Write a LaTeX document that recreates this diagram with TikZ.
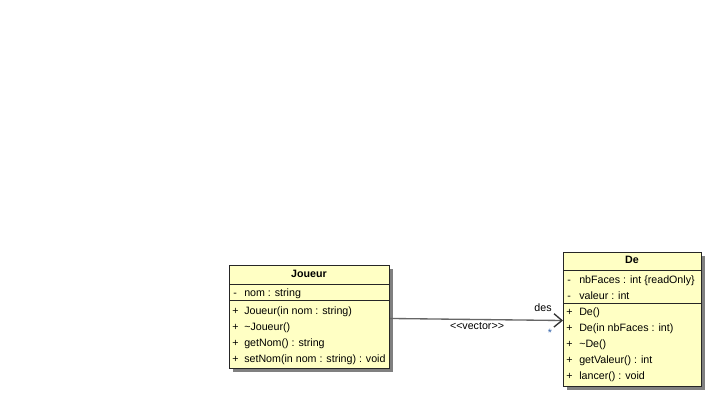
\documentclass[tikz,border=0pt]{standalone}
\usepackage{fontspec}
\setmainfont{Liberation Sans}
\usetikzlibrary{arrows.meta,shadows}

\definecolor{classfill}{HTML}{FFFFC4}
\definecolor{multblue}{HTML}{3060A8}

\tikzset{
  classbox/.style={draw=black!85,fill=classfill,line width=0.75pt,inner sep=0pt,anchor=north west,
    drop shadow={shadow xshift=2.25pt,shadow yshift=-2.25pt,fill=black!50,opacity=1}},
  member/.style={anchor=base west,inner sep=0pt,font=\fontsize{8pt}{9pt}\selectfont},
  ctitle/.style={anchor=base,inner sep=0pt,font=\fontsize{8pt}{9pt}\selectfont\bfseries},
  sep/.style={draw=black!85,line width=0.75pt},
  assoc/.style={draw=black!60,line width=1pt,-{Straight Barb[length=6pt,width=10pt,black!80]}},
  rolelabel/.style={inner sep=0pt,font=\fontsize{8pt}{9pt}\selectfont}
}

\begin{document}
\begin{tikzpicture}[x=0.75pt,y=-0.75pt]
\useasboundingbox[fill=white] (0,0) rectangle (716,401);

% classe Joueur
\node[classbox,minimum width=120pt,minimum height=77.25pt] (joueur) at (229,265) {};
\draw[sep] (229,284) -- (389,284);
\draw[sep] (229,300) -- (389,300);
\node[ctitle] (jtitle) at (309,277) {Joueur};
\node[member] (jsign0) at (233,296) {-};
\node[member] (jattr0) at (244,296) {nom : string};
\foreach \txt [count=\i] in {Joueur(in nom : string),\textasciitilde Joueur(),getNom() : string,setNom(in nom : string) : void}{
  \node[member] (jsign\i) at (232,298+16*\i) {+};
  \node[member] (jop\i) at (244,298+16*\i) {\txt};
}

% classe De
\node[classbox,minimum width=103.5pt,minimum height=100.5pt] (de) at (563,252) {};
\draw[sep] (563,270) -- (701,270);
\draw[sep] (563,303) -- (701,303);
\node[ctitle] (dtitle) at (632,263) {De};
\node[member] (dsign1) at (567,283) {-};
\node[member] (dattr1) at (579,283) {nbFaces : int \{readOnly\}};
\node[member] (dsign2) at (567,299) {-};
\node[member] (dattr2) at (579,299) {valeur : int};
\foreach \txt [count=\i] in {De(),De(in nbFaces : int),\textasciitilde De(),getValeur() : int,lancer() : void}{
  \node[member] (dsign\i) at (566,299+16*\i) {+};
  \node[member] (dop\i) at (579,299+16*\i) {\txt};
}

% association
\draw[assoc] ([yshift=-1.1pt]joueur.east) -- ([yshift=-0.75pt]de.west);
\node[rolelabel] (role) at (543,308) {des};
\node[rolelabel,text=multblue] (mult) at (550,333) {*};
\node[rolelabel] (stereo) at (477,326) {\textless\kern0pt\textless vector\textgreater\kern0pt\textgreater};
\end{tikzpicture}
\end{document}
